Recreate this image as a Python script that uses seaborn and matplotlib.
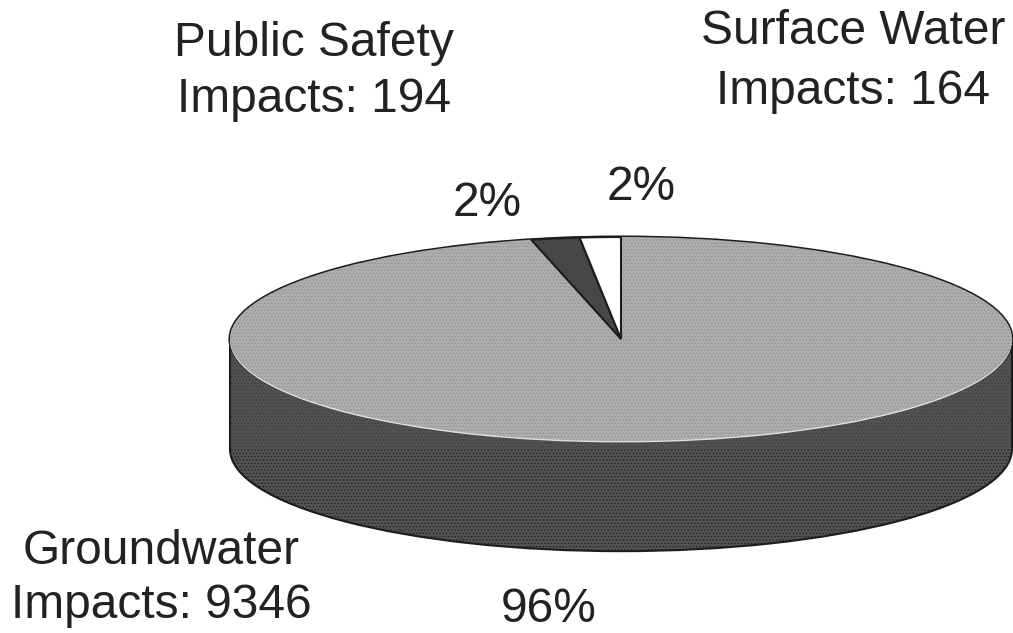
import matplotlib
matplotlib.use('Agg')
import matplotlib.pyplot as plt
from matplotlib.patches import Rectangle
import seaborn as sns

categories = ['Surface Water', 'Public Safety', 'Groundwater']
impacts = [164, 194, 9346]
percent_labels = ['2%', '2%', '96%']
top_colors = ['#ffffff', '#474747', '#adadad']
side_color = '#525252'
edge_color = '#1c1c1c'

sns.set_theme(style='white')
plt.rcParams['font.family'] = ['Liberation Sans', 'DejaVu Sans']
plt.rcParams['hatch.linewidth'] = 0.5

W, H = 1013, 633
fig = plt.figure(figsize=(W / 100, H / 100), dpi=100)
ax = fig.add_axes([0, 0, 1, 1])

# pie center and radii in pixels of the image
cx, cy, rx, ry, depth = 621, 339, 391, 102, 1.08

# side of the disc first, then the top on it
side, _ = ax.pie([1], colors=[side_color], center=(0, -depth), startangle=90,
                 wedgeprops={'edgecolor': edge_color, 'linewidth': 1.5})
ax.add_patch(Rectangle((-1, -depth), 2, depth, facecolor=side_color, edgecolor='#3a3a3a',
                       linewidth=0, hatch='.....', zorder=1.5))
ax.plot([-1, -1], [-depth, 0], color=edge_color, lw=1.5, zorder=1.6)
ax.plot([1, 1], [-depth, 0], color=edge_color, lw=1.5, zorder=1.6)
side[0].set_hatch('.....')

# dark rim along the back, light rim along the front
rim, _ = ax.pie([1], colors=[top_colors[2]], center=(0, 0),
                wedgeprops={'edgecolor': edge_color, 'linewidth': 2.2})
rim[0].set_zorder(1.7)
glow, _ = ax.pie([1], colors=['#dedede'], center=(0, -0.015),
                 wedgeprops={'edgecolor': 'none'})
glow[0].set_zorder(1.8)

wedges, _ = ax.pie(impacts, colors=top_colors, center=(0, 0), startangle=90, counterclock=True,
                   wedgeprops={'edgecolor': 'none'})
for w in wedges:
    w.set_zorder(2)
for w in wedges[:2]:
    w.set_edgecolor(edge_color)
    w.set_linewidth(1.5)
wedges[0].set_zorder(2.2)
wedges[1].set_zorder(2.1)
wedges[2].set_edgecolor('#8e8e8e')
wedges[2].set_linewidth(0)
wedges[2].set_hatch('.....')

ax.set_aspect('auto')
ax.set_xlim(-cx / rx, (W - cx) / rx)
ax.set_ylim(-(H - cy) / ry, cy / ry)
ax.axis('off')


def label(x, y, s):
    fig.text(x / W, 1 - y / H, s, ha='center', va='center', fontsize=34.5, color='#222222')


label(314, 44, categories[1])
label(314, 100, 'Impacts: %d' % impacts[1])
label(853, 32, categories[0])
label(853, 92, 'Impacts: %d' % impacts[0])
label(161, 551, categories[2])
label(161, 606, 'Impacts: %d' % impacts[2])
label(641, 188, percent_labels[0])
label(487, 204, percent_labels[1])
label(549, 609, percent_labels[2])

fig.savefig('out.png', dpi=100, facecolor='white')
